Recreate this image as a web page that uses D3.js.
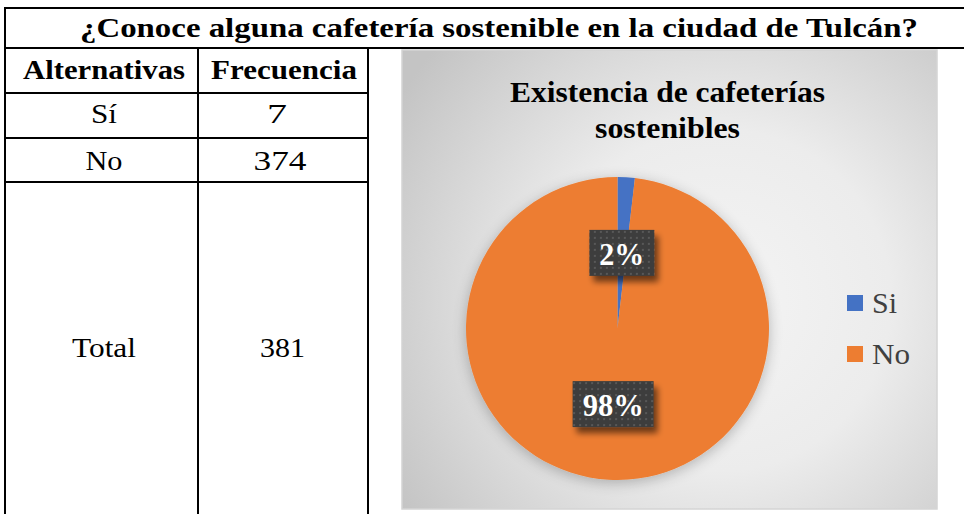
<!DOCTYPE html>
<html><head><meta charset="utf-8">
<script src="https://cdn.jsdelivr.net/npm/d3@7"></script>
<style>html,body{margin:0;padding:0;background:#fff;overflow:hidden}</style>
</head><body>
<svg id="c" width="964" height="514"></svg>
<script>
const title = "¿Conoce alguna cafetería sostenible en la ciudad de Tulcán?";
const headers = ["Alternativas", "Frecuencia"];
const alternatives = ["Sí", "No", "Total"];
const frequencies = [7, 374, 381];
const chartTitle = ["Existencia de cafeterías", "sostenibles"];
const categories = ["Si", "No"];
const values = [7, 374];
const colors = ["#4472c4", "#ed7d31"];

const svg = d3.select("#c");
const serif = "'Liberation Serif','Times New Roman',serif";
const defs = svg.append("defs");

function txt(parent, s, x, y, size, bold, len, fill) {
  const t = parent.append("text").attr("x", x).attr("y", y).attr("text-anchor", "middle")
    .attr("font-family", serif).attr("font-size", size).attr("fill", fill || "#000")
    .attr("font-weight", bold ? "bold" : "normal").text(s);
  if (len) t.attr("textLength", len).attr("lengthAdjust", "spacingAndGlyphs");
  return t;
}

// ---- Table ----
const L = 5, C1 = 198, C2 = 368, T = 8, H1 = 48;
const g = svg.append("g");
txt(g, title, 499, 37, 27, true, 838);
const line = (x1,y1,x2,y2)=>g.append("line").attr("x1",x1).attr("y1",y1).attr("x2",x2).attr("y2",y2)
  .attr("stroke","#000").attr("stroke-width",2);
line(L, T, 964, T);
line(L, H1, 964, H1);
line(L, T-1, L, 514);
[C1, C2].forEach(x=>line(x, H1, x, 514));
[93,138,182].forEach(y=>line(L, y, C2, y));

const headLen = [162, 146];
const headX = [104, 284];
headers.forEach((h,i)=>txt(g, h, headX[i], 79, 28, true, headLen[i]));

const rowBase = [123, 170, 357];
const altLen = [26, 37, 64];
const freqLen = [20, 53, 45];
const freqX = [277, 280, 282.5];
alternatives.forEach((a,i)=>{
  txt(g, a, 104, rowBase[i], 28, false, altLen[i]);
  txt(g, String(frequencies[i]), freqX[i], rowBase[i], 28, false, freqLen[i]);
});

// ---- Chart area ----
const cx0 = 402, cy0 = 50, cw = 535, ch = 459;
const rg = defs.append("radialGradient").attr("id","bg").attr("gradientUnits","userSpaceOnUse")
  .attr("cx", 720).attr("cy", 300).attr("r", 380);
rg.append("stop").attr("offset","0").attr("stop-color","#f4f4f4");
rg.append("stop").attr("offset","0.45").attr("stop-color","#ececec");
rg.append("stop").attr("offset","1").attr("stop-color","#c4c4c4");
svg.append("rect").attr("x",cx0).attr("y",cy0).attr("width",cw).attr("height",ch)
  .attr("fill","url(#bg)").attr("stroke","#d4d4d4").attr("stroke-width",1.5);

const ctLen = [315, 145];
chartTitle.forEach((t,i)=>txt(svg, t, 667.5, 102 + i*36, 30, true, ctLen[i]));

// shadows
const f1 = defs.append("filter").attr("id","pieShadow").attr("x","-30%").attr("y","-30%").attr("width","160%").attr("height","160%");
f1.append("feGaussianBlur").attr("in","SourceAlpha").attr("stdDeviation",7).attr("result","b");
f1.append("feOffset").attr("in","b").attr("dx",0).attr("dy",3).attr("result","o");
f1.append("feComponentTransfer").attr("in","o").attr("result","s").append("feFuncA").attr("type","linear").attr("slope",0.25);
const m1 = f1.append("feMerge"); m1.append("feMergeNode").attr("in","s"); m1.append("feMergeNode").attr("in","SourceGraphic");

const f2 = defs.append("filter").attr("id","boxShadow").attr("x","-30%").attr("y","-30%").attr("width","160%").attr("height","160%");
f2.append("feGaussianBlur").attr("in","SourceAlpha").attr("stdDeviation",3).attr("result","b");
f2.append("feOffset").attr("in","b").attr("dx",4).attr("dy",6).attr("result","o");
f2.append("feComponentTransfer").attr("in","o").attr("result","s").append("feFuncA").attr("type","linear").attr("slope",0.55);
const m2 = f2.append("feMerge"); m2.append("feMergeNode").attr("in","s"); m2.append("feMergeNode").attr("in","SourceGraphic");

const pat = defs.append("pattern").attr("id","dots").attr("patternUnits","userSpaceOnUse").attr("width",6).attr("height",6);
pat.append("rect").attr("width",6).attr("height",6).attr("fill","#3c3c3c");
pat.append("rect").attr("x",2).attr("y",2).attr("width",2).attr("height",2).attr("fill","#585858");

const pcx = 617.5, pcy = 328.5, R = 151.5;
const pie = d3.pie().sort(null).value(d=>d);
const arcs = pie(values);
const arc = d3.arc().innerRadius(0).outerRadius(R);
const pg = svg.append("g").attr("transform",`translate(${pcx},${pcy})`);
pg.append("g").attr("filter","url(#pieShadow)").selectAll("path").data(arcs).join("path")
  .attr("d",arc).attr("fill",(d,i)=>colors[i]);

const total = d3.sum(values);
const labelArc = d3.arc().innerRadius(R*0.5).outerRadius(R*0.5);
const boxW = [65, 81];
const labLen = [45, 61];
arcs.forEach((d,i)=>{
  const [x,y] = labelArc.centroid(d);
  const lg = pg.append("g").attr("transform",`translate(${x},${y})`);
  lg.append("rect").attr("x",-boxW[i]/2).attr("y",-23).attr("width",boxW[i]).attr("height",46)
    .attr("fill","url(#dots)").attr("filter","url(#boxShadow)");
  txt(lg, d3.format(".0%")(d.data/total), 0, 12, 32, true, labLen[i], "#fff");
});

// legend
const lgY = d3.scalePoint().domain(categories).range([303, 354]);
const leg = svg.append("g");
const legLen = [25, 38];
categories.forEach((c,i)=>{
  leg.append("rect").attr("x",847).attr("y",lgY(c)-8).attr("width",16).attr("height",16).attr("fill",colors[i]);
  leg.append("text").attr("x",872).attr("y",lgY(c)+10)
    .attr("font-family",serif).attr("font-size",30).attr("fill","#404040")
    .attr("textLength",legLen[i]).attr("lengthAdjust","spacingAndGlyphs").text(c);
});
</script>
</body></html>
